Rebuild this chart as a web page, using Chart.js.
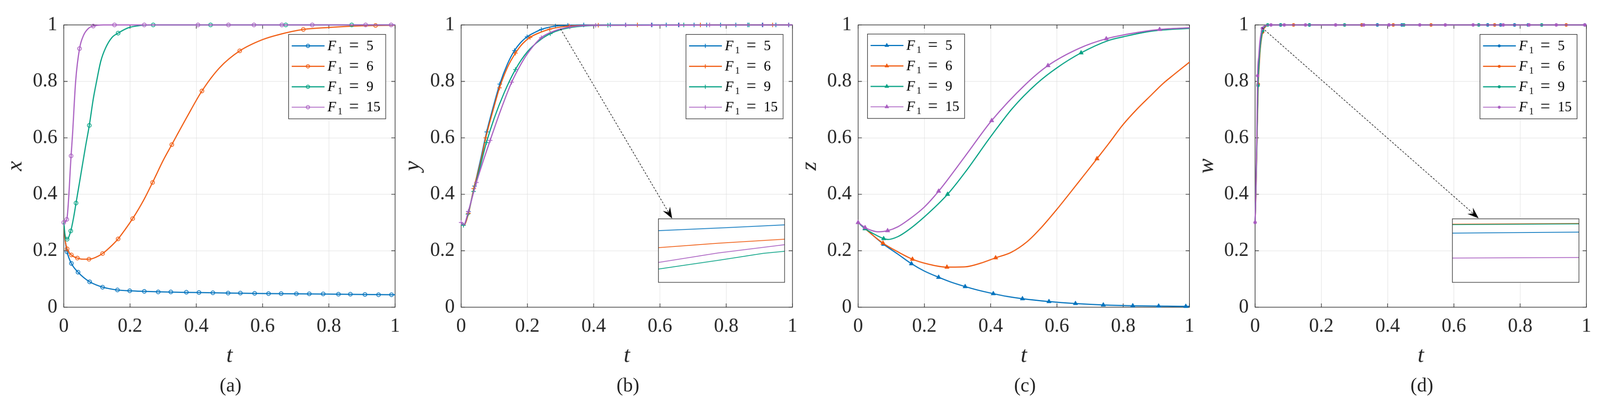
<!DOCTYPE html>
<html>
<head>
<meta charset="utf-8">
<script src="https://cdn.jsdelivr.net/npm/chart.js@4.4.1/dist/chart.umd.min.js"></script>
<style>
html,body{margin:0;padding:0;background:#ffffff;overflow:hidden;}
#stage{position:absolute;left:0;top:0;width:4240px;height:1070px;overflow:hidden;background:#ffffff;transform-origin:0 0;}
canvas{position:absolute;}
.cap{position:absolute;font-family:"Liberation Serif","Times New Roman",serif;font-size:52px;color:#262626;text-align:center;width:400px;height:60px;line-height:60px;}
</style>
</head>
<body>
<div id="stage"></div>
<script>
// ---------------- shared labels / ticks ----------------
const seriesLabels = ['F₁ = 5', 'F₁ = 6', 'F₁ = 9', 'F₁ = 15'];
const xTickValues = [0, 0.2, 0.4, 0.6, 0.8, 1];
const xTickLabels = ['0', '0.2', '0.4', '0.6', '0.8', '1'];
const yTickValues = [0, 0.2, 0.4, 0.6, 0.8, 1];
const yTickLabels = ['0', '0.2', '0.4', '0.6', '0.8', '1'];
const xTitle = 't';
const yTitles = ['x', 'y', 'z', 'w'];
const captions = ['(a)', '(b)', '(c)', '(d)'];

// ---------------- panel (a): x(t) ----------------
const a5_t = [0,0.004,0.01,0.023,0.043,0.06,0.078,0.1,0.117,0.14,0.162,0.199,0.243,0.3,0.4,0.5,0.6,0.7,0.8,0.9,1.0];
const a5_v = [0.3,0.24,0.196,0.155,0.124,0.105,0.09,0.078,0.071,0.065,0.061,0.058,0.056,0.054,0.052,0.050,0.0485,0.0475,0.0465,0.045,0.044];
const a5_mt = [0.01,0.023,0.043,0.078,0.117,0.162,0.199,0.243,0.285,0.323,0.37,0.408,0.45,0.496,0.533,0.576,0.618,0.656,0.702,0.741,0.783,0.829,0.865,0.909,0.95,0.989];
const a5_mv = [0.196,0.155,0.124,0.09,0.071,0.061,0.058,0.056,0.054,0.054,0.053,0.052,0.051,0.050,0.050,0.049,0.048,0.048,0.0475,0.0475,0.047,0.046,0.046,0.045,0.044,0.044];

const a6_t = [0,0.004,0.01,0.023,0.041,0.06,0.076,0.095,0.117,0.14,0.164,0.185,0.208,0.24,0.268,0.3,0.326,0.37,0.417,0.47,0.531,0.6,0.65,0.723,0.8,0.9,1.0];
const a6_v = [0.3,0.24,0.207,0.185,0.174,0.170,0.170,0.176,0.19,0.213,0.242,0.275,0.314,0.377,0.442,0.52,0.576,0.67,0.766,0.848,0.908,0.948,0.966,0.984,0.991,0.997,0.999];
const a6_mt = [0.01,0.023,0.041,0.076,0.117,0.164,0.208,0.268,0.326,0.417,0.531,0.723,0.941];
const a6_mv = [0.207,0.185,0.174,0.170,0.19,0.242,0.314,0.442,0.576,0.766,0.908,0.984,0.998];

const a9_t = [0,0.004,0.01,0.021,0.03,0.037,0.05,0.065,0.077,0.089,0.099,0.112,0.126,0.145,0.164,0.195,0.23,0.27,1.0];
const a9_v = [0.3,0.255,0.241,0.27,0.32,0.369,0.46,0.565,0.644,0.738,0.8,0.873,0.918,0.955,0.971,0.99,0.998,1.0,1.0];
const a9_mt = [0.01,0.021,0.037,0.077,0.164,0.27,0.443,0.67,0.869];
const a9_mv = [0.241,0.27,0.369,0.644,0.971,1,1,1,1];

const a15_t = [0,0.009,0.022,0.0264,0.0358,0.0475,0.0596,0.0747,0.089,0.12,1.0];
const a15_v = [0.3,0.311,0.536,0.612,0.8,0.916,0.963,0.988,0.996,1.0,1.0];
const a15_mt = [0,0.009,0.022,0.0475,0.089,0.153,0.243,0.405,0.497,0.574,0.658,0.75,0.911,0.988];
const a15_mv = [0.3,0.311,0.536,0.916,0.996,1,1,1,1,1,1,1,1,1];

// ---------------- panel (b): y(t) ----------------
const b5_t = [0,0.008,0.0223,0.0404,0.06,0.077,0.1,0.1166,0.14,0.161,0.18,0.199,0.22,0.242,0.2845,0.322,0.37,1.0];
const b5_v = [0.3,0.29,0.339,0.429,0.53,0.621,0.723,0.7905,0.862,0.909,0.938,0.958,0.972,0.984,0.996,0.9985,1.0,1.0];
const b5_mt = [0.0223,0.0404,0.077,0.1166,0.161,0.199,0.242,0.2845,0.322,0.37,0.45,0.496,0.576,0.619,0.656,0.703,0.741,0.783,0.829,0.865,0.909,0.95,0.989];
const b5_mv = [0.339,0.429,0.621,0.7905,0.909,0.958,0.984,0.996,0.9985,1,1,1,1,1,1,1,1,1,1,1,1,1,1];

const b6_t = [0,0.008,0.0223,0.038,0.06,0.0743,0.1,0.1158,0.14,0.1638,0.185,0.208,0.24,0.2675,0.3,0.326,0.414,1.0];
const b6_v = [0.3,0.29,0.333,0.42,0.52,0.600,0.713,0.777,0.85,0.900,0.933,0.956,0.974,0.985,0.9925,0.996,0.999,1.0];
const b6_mt = [0.0223,0.038,0.0743,0.1158,0.1638,0.208,0.2675,0.326,0.414,0.532,0.722,0.94];
const b6_mv = [0.333,0.42,0.600,0.777,0.900,0.956,0.985,0.996,0.999,1,1,1];

const b9_t = [0,0.007,0.0204,0.0374,0.06,0.0762,0.1,0.13,0.1638,0.2,0.24,0.269,0.3,0.35,0.45,1.0];
const b9_v = [0.3,0.29,0.330,0.410,0.51,0.583,0.67,0.76,0.842,0.905,0.948,0.969,0.983,0.994,0.999,1.0];
const b9_mt = [0.007,0.0204,0.0374,0.0762,0.1638,0.269,0.443,0.672,0.869];
const b9_mv = [0.29,0.330,0.410,0.583,0.842,0.969,0.999,1,1];

const b15_t = [0,0.008,0.0215,0.046,0.07,0.0875,0.12,0.1525,0.18,0.2,0.242,0.28,0.3,0.328,0.406,1.0];
const b15_v = [0.3,0.292,0.339,0.442,0.53,0.591,0.70,0.797,0.86,0.898,0.955,0.978,0.9855,0.993,0.9985,1.0];
const b15_mt = [0,0.0215,0.046,0.0875,0.1525,0.242,0.328,0.406,0.497,0.574,0.658,0.75,0.911,0.988];
const b15_mv = [0.3,0.339,0.442,0.591,0.797,0.955,0.993,0.9985,1,1,1,1,1,1];

// inset of (b): zoom near t = 0.3
const bi_t5 = [0.295,0.30054,0.305], bi_v5 = [0.9962,0.99718,0.99804];
const bi_t6 = [0.295,0.29974,0.305], bi_v6 = [0.9909,0.99228,0.99356];
const bi_t9 = [0.295,0.29974,0.30331,0.305], bi_v9 = [0.98424,0.98698,0.98914,0.9898];
const bi_t15 = [0.295,0.29974,0.305], bi_v15 = [0.98628,0.98926,0.99184];
const arrowB = [0.300, 0.986, 0.637, 0.314];

// ---------------- panel (c): z(t) ----------------
const c5_t = [0,0.021,0.077,0.12,0.161,0.2,0.243,0.28,0.323,0.36,0.408,0.45,0.496,0.576,0.656,0.74,0.829,0.907,0.989,1.0];
const c5_v = [0.3,0.279,0.223,0.188,0.154,0.128,0.106,0.089,0.073,0.061,0.048,0.038,0.030,0.020,0.013,0.008,0.005,0.004,0.003,0.003];
const c5_mt = [0.021,0.077,0.161,0.243,0.323,0.408,0.496,0.576,0.656,0.74,0.829,0.907,0.989];
const c5_mv = [0.279,0.223,0.154,0.106,0.073,0.048,0.030,0.020,0.013,0.008,0.005,0.004,0.003];

const c6_t = [0,0.021,0.075,0.12,0.164,0.21,0.268,0.323,0.37,0.415,0.4615,0.509,0.548,0.6,0.643,0.678,0.721,0.756,0.799,0.842,0.886,0.92,0.951,1.0];
const c6_v = [0.3,0.278,0.227,0.196,0.170,0.153,0.142,0.143,0.156,0.175,0.194,0.231,0.276,0.347,0.41,0.462,0.526,0.579,0.646,0.702,0.753,0.792,0.822,0.868];
const c6_mt = [0.021,0.075,0.164,0.268,0.415,0.721];
const c6_mv = [0.278,0.227,0.170,0.142,0.175,0.526];

const c9_t = [0,0.021,0.05,0.077,0.09,0.12,0.15,0.2,0.27,0.323,0.4,0.466,0.539,0.6,0.673,0.756,0.8,0.886,1.0];
const c9_v = [0.3,0.278,0.258,0.243,0.240,0.250,0.272,0.32,0.40,0.478,0.604,0.705,0.792,0.848,0.901,0.945,0.958,0.978,0.988];
const c9_mt = [0.021,0.077,0.27,0.673];
const c9_mv = [0.278,0.243,0.40,0.901];

const c15_t = [0,0.021,0.04,0.06,0.089,0.12,0.15,0.2,0.243,0.323,0.403,0.505,0.573,0.669,0.749,0.821,0.91,1.0];
const c15_v = [0.3,0.282,0.272,0.267,0.271,0.285,0.308,0.355,0.411,0.535,0.661,0.789,0.856,0.918,0.951,0.969,0.984,0.99];
const c15_mt = [0,0.021,0.089,0.243,0.403,0.573,0.749,0.91];
const c15_mv = [0.3,0.282,0.271,0.411,0.661,0.856,0.951,0.984];

// ---------------- panel (d): w(t) ----------------
const d5_t = [0,0.0025,0.0055,0.009,0.012,0.016,0.0225,0.03,0.04,1.0];
const d5_v = [0.3,0.41,0.59,0.79,0.865,0.925,0.977,0.994,1.0,1.0];
const d5_mt = [0.009,0.0225,0.077,0.164,0.322,0.369,0.443,0.702,0.741,0.783,0.824,0.995];
const d5_mv = [0.79,0.977,1,1,1,1,1,1,1,1,1,1];

const d6_t = [0,0.0025,0.0055,0.0095,0.0125,0.016,0.023,0.031,0.041,1.0];
const d6_v = [0.3,0.4,0.58,0.79,0.86,0.92,0.975,0.993,1.0,1.0];
const d6_mt = [0.0095,0.023,0.116,0.322,0.417,0.531,0.723,0.939];
const d6_mv = [0.79,0.975,1,1,1,1,1,1];

const d9_t = [0,0.0025,0.0055,0.0087,0.012,0.016,0.0226,0.03,0.0377,1.0];
const d9_v = [0.3,0.42,0.6,0.785,0.87,0.93,0.979,0.995,1.0,1.0];
const d9_mt = [0.0087,0.0226,0.038,0.077,0.164,0.27,0.449,0.675,0.865];
const d9_mv = [0.785,0.979,1,1,1,1,1,1,1];

const d15_t = [0,0.002,0.005,0.0075,0.0113,0.0143,0.0219,0.03,0.048,1.0];
const d15_v = [0.3,0.4,0.6,0.82,0.892,0.94,0.988,0.997,1.0,1.0];
const d15_mt = [0,0.0075,0.0219,0.048,0.088,0.152,0.243,0.328,0.404,0.497,0.574,0.658,0.749,0.827,0.909,0.995];
const d15_mv = [0.3,0.82,0.988,1,1,1,1,1,1,1,1,1,1,1,1,1];

// inset of (d): zoom near t = 0.02
const di_t5 = [0.02,0.03], di_v5 = [0.99544,0.99576];
const di_t6 = [0.02,0.03], di_v6 = [0.99824,0.99848];
const di_t9 = [0.02,0.03], di_v9 = [0.99808,0.99832];
const di_t15 = [0.02,0.03], di_v15 = [0.98768,0.98784];
const arrowD = [0.0215, 0.9897, 0.6747, 0.315];

// ---------------- styling ----------------
const FONT = '"Liberation Serif", "Times New Roman", serif';
const COLORS = ['#0072BD', '#F05A0F', '#03A183', '#A85CC0'];
const AXIS_COLOR = '#262626';
const GRID_COLOR = '#e0e0e0';
const PAGE_W = 4240, PAGE_H = 1070;
const PLOT_W = 884, PLOT_TOP = 66, PLOT_BOTTOM = 814;
const Y_AXIS_W = 169, X_AXIS_H = 180, CANVAS_W = 1080, CANVAS_H = 1070;

const MARKERS = {
  openCircle: {pointStyle: 'circle', radius: 5, border: 2, fill: false, legendR: 4.5},
  plus:       {pointStyle: 'cross', radius: 6, border: 2, fill: false, legendR: 5.5},
  triangle:   {pointStyle: 'triangle', radius: 7, border: 1, fill: true, legendR: 7},
  dot:        {pointStyle: 'circle', radius: 4.5, border: 0, fill: true, legendR: 3.8}
};

function drawMarker(ctx, kind, x, y, color, r) {
  ctx.save();
  ctx.strokeStyle = color; ctx.fillStyle = color; ctx.lineWidth = 2;
  ctx.beginPath();
  if (kind === 'openCircle') { ctx.arc(x, y, r, 0, Math.PI * 2); ctx.stroke(); }
  else if (kind === 'dot') { ctx.arc(x, y, r, 0, Math.PI * 2); ctx.fill(); }
  else if (kind === 'plus') { ctx.moveTo(x - r, y); ctx.lineTo(x + r, y); ctx.moveTo(x, y - r); ctx.lineTo(x, y + r); ctx.stroke(); }
  else if (kind === 'triangle') {
    let rad = 0;
    ctx.moveTo(x + Math.sin(rad) * r, y - Math.cos(rad) * r);
    rad += 2 * Math.PI / 3; ctx.lineTo(x + Math.sin(rad) * r, y - Math.cos(rad) * r);
    rad += 2 * Math.PI / 3; ctx.lineTo(x + Math.sin(rad) * r, y - Math.cos(rad) * r);
    ctx.closePath(); ctx.fill();
  }
  ctx.restore();
}

function drawLegendLabel(ctx, label, x, baseline) {
  const parts = label.split('=');
  const lhs = parts[0].trim(), rhs = parts[1].trim();
  const main = lhs.charAt(0);
  const subMap = {'₀':'0','₁':'1','₂':'2','₃':'3','₄':'4','₅':'5','₆':'6','₇':'7','₈':'8','₉':'9'};
  const sub = lhs.slice(1).split('').map(c => subMap[c] || c).join('');
  ctx.save();
  ctx.fillStyle = '#000000';
  ctx.textBaseline = 'alphabetic';
  ctx.textAlign = 'left';
  ctx.font = 'italic 37px ' + FONT;
  ctx.fillText(main, x, baseline);
  ctx.font = '25px ' + FONT;
  ctx.fillText(sub, x + 27, baseline + 8);
  ctx.font = '46px ' + FONT;
  ctx.fillText('=', x + 57, baseline + 1);
  ctx.font = '37px ' + FONT;
  ctx.fillText(rhs, x + 103, baseline);
  ctx.restore();
}

const framePlugin = {
  id: 'frame',
  beforeDatasetsDraw(chart) {
    const {ctx, chartArea: a, scales} = chart;
    const L = 10;
    ctx.save();
    ctx.strokeStyle = AXIS_COLOR;
    ctx.lineWidth = 1.6;
    ctx.beginPath();
    xTickValues.forEach(v => {
      const px = scales.x.getPixelForValue(v);
      ctx.moveTo(px, a.bottom); ctx.lineTo(px, a.bottom - L);
      ctx.moveTo(px, a.top); ctx.lineTo(px, a.top + L);
    });
    yTickValues.forEach(v => {
      const py = scales.y.getPixelForValue(v);
      ctx.moveTo(a.left, py); ctx.lineTo(a.left + L, py);
      ctx.moveTo(a.right, py); ctx.lineTo(a.right - L, py);
    });
    ctx.stroke();
    ctx.strokeRect(a.left, a.top, a.right - a.left, a.bottom - a.top);
    ctx.restore();
  }
};

const arrowPlugin = {
  id: 'zoomArrow',
  afterDatasetsDraw(chart, args, opts) {
    if (!opts || !opts.points) return;
    const {ctx, scales} = chart;
    const p = opts.points;
    const x0 = scales.x.getPixelForValue(p[0]), y0 = scales.y.getPixelForValue(p[1]);
    const x1 = scales.x.getPixelForValue(p[2]), y1 = scales.y.getPixelForValue(p[3]);
    const dx = x1 - x0, dy = y1 - y0, len = Math.hypot(dx, dy);
    const ux = dx / len, uy = dy / len, nx = -uy, ny = ux;
    const L = 30, W = 11, N = 19;
    ctx.save();
    ctx.strokeStyle = '#000'; ctx.fillStyle = '#000';
    ctx.lineWidth = 1.5;
    ctx.setLineDash([5, 4]);
    ctx.beginPath(); ctx.moveTo(x0, y0); ctx.lineTo(x1 - ux * N, y1 - uy * N); ctx.stroke();
    ctx.setLineDash([]);
    ctx.beginPath();
    ctx.moveTo(x1, y1);
    ctx.lineTo(x1 - ux * L + nx * W, y1 - uy * L + ny * W);
    ctx.lineTo(x1 - ux * N, y1 - uy * N);
    ctx.lineTo(x1 - ux * L - nx * W, y1 - uy * L - ny * W);
    ctx.closePath(); ctx.fill();
    ctx.restore();
  }
};

const legendPlugin = {
  id: 'boxLegend',
  afterDraw(chart, args, o) {
    const a = chart.chartArea, ctx = chart.ctx;
    const W = 259, H = 225;
    const left = o.side === 'right' ? a.right - 24 - W : a.left + 24;
    const top = a.top + o.topGap;
    ctx.save();
    ctx.fillStyle = '#ffffff';
    ctx.fillRect(left, top, W, H);
    ctx.strokeStyle = AXIS_COLOR; ctx.lineWidth = 1.5;
    ctx.strokeRect(left + 0.75, top + 0.75, W - 1.5, H - 1.5);
    const series = chart.data.datasets.filter(d => d.isSeries);
    series.forEach((ds, k) => {
      const cy = top + 31 + k * 54.2;
      ctx.strokeStyle = ds.borderColor;
      ctx.lineWidth = k === 3 ? 2 : 3;
      ctx.beginPath(); ctx.moveTo(left + 9, cy); ctx.lineTo(left + 96, cy); ctx.stroke();
      drawMarker(ctx, o.marker, left + 52, cy, ds.borderColor, MARKERS[o.marker].legendR);
      drawLegendLabel(ctx, ds.label, left + 104, cy + 11);
    });
    ctx.restore();
  }
};

const insetPlugin = {
  id: 'insetFrame',
  beforeDraw(chart) {
    const ctx = chart.ctx;
    ctx.save(); ctx.fillStyle = '#ffffff'; ctx.fillRect(0, 0, chart.width, chart.height); ctx.restore();
  },
  afterDraw(chart) {
    const ctx = chart.ctx;
    ctx.save(); ctx.strokeStyle = '#333333'; ctx.lineWidth = 1.6;
    ctx.strokeRect(0.8, 0.8, chart.width - 1.6, chart.height - 1.6); ctx.restore();
  }
};

function pts(ts, vs) { return ts.map((t, i) => ({x: t, y: vs[i]})); }

const panels = [
  {plotLeft: 169, marker: 'openCircle', legendSide: 'right', legendTop: 24.5, arrow: null,
   lines: [[a5_t, a5_v], [a6_t, a6_v], [a9_t, a9_v], [a15_t, a15_v]],
   marks: [[a5_mt, a5_mv], [a6_mt, a6_mv], [a9_mt, a9_mv], [a15_mt, a15_mv]]},
  {plotLeft: 1222, marker: 'plus', legendSide: 'right', legendTop: 24.5, arrow: arrowB,
   lines: [[b5_t, b5_v], [b6_t, b6_v], [b9_t, b9_v], [b15_t, b15_v]],
   marks: [[b5_mt, b5_mv], [b6_mt, b6_mv], [b9_mt, b9_mv], [b15_mt, b15_mv]],
   inset: {left: 1744, top: 579, w: 336, h: 170, xmin: 0.295, xmax: 0.305, ymin: 0.98, ymax: 1.0,
           lines: [[bi_t5, bi_v5], [bi_t6, bi_v6], [bi_t9, bi_v9], [bi_t15, bi_v15]]}},
  {plotLeft: 2274, marker: 'triangle', legendSide: 'left', legendTop: 23.5, arrow: null,
   lines: [[c5_t, c5_v], [c6_t, c6_v], [c9_t, c9_v], [c15_t, c15_v]],
   marks: [[c5_mt, c5_mv], [c6_mt, c6_mv], [c9_mt, c9_mv], [c15_mt, c15_mv]]},
  {plotLeft: 3326, marker: 'dot', legendSide: 'right', legendTop: 24.5, arrow: arrowD,
   lines: [[d5_t, d5_v], [d6_t, d6_v], [d9_t, d9_v], [d15_t, d15_v]],
   marks: [[d5_mt, d5_mv], [d6_mt, d6_mv], [d9_mt, d9_mv], [d15_mt, d15_mv]],
   inset: {left: 3848, top: 579, w: 337, h: 170, xmin: 0.02, xmax: 0.03, ymin: 0.98, ymax: 1.0,
           lines: [[di_t5, di_v5], [di_t6, di_v6], [di_t9, di_v9], [di_t15, di_v15]]}}
];

const stage = document.getElementById('stage');

function fitStage() {
  const vw = window.innerWidth || document.documentElement.clientWidth || PAGE_W;
  const vh = window.innerHeight || document.documentElement.clientHeight || PAGE_H;
  const s = Math.min(vw / PAGE_W, vh / PAGE_H);
  stage.style.transform = (Math.abs(s - 1) > 0.002) ? 'scale(' + s + ')' : 'none';
}

function buildPanel(p, idx) {
  const cv = document.createElement('canvas');
  cv.width = CANVAS_W; cv.height = CANVAS_H;
  cv.style.left = (p.plotLeft - Y_AXIS_W) + 'px';
  cv.style.top = '0px';
  cv.style.width = CANVAS_W + 'px'; cv.style.height = CANVAS_H + 'px';
  stage.appendChild(cv);

  const m = MARKERS[p.marker];
  const datasets = [];
  p.lines.forEach((ln, k) => {
    datasets.push({
      label: seriesLabels[k], isSeries: true,
      data: pts(ln[0], ln[1]),
      showLine: true, borderColor: COLORS[k], backgroundColor: COLORS[k],
      borderWidth: 3, pointRadius: 0, pointHoverRadius: 0, pointHitRadius: 0,
      cubicInterpolationMode: 'monotone', fill: false, clip: false,
      order: (3 - k) * 2 + 1
    });
    const mk = p.marks[k];
    datasets.push({
      label: seriesLabels[k] + ' markers',
      data: pts(mk[0], mk[1]),
      showLine: false,
      pointStyle: m.pointStyle, pointRadius: m.radius, pointHoverRadius: m.radius,
      pointBorderWidth: m.border, pointBorderColor: COLORS[k],
      pointBackgroundColor: m.fill ? COLORS[k] : 'rgba(0,0,0,0)',
      borderColor: COLORS[k], backgroundColor: m.fill ? COLORS[k] : 'rgba(0,0,0,0)',
      clip: false, order: (3 - k) * 2
    });
  });

  new Chart(cv, {
    type: 'scatter',
    data: {datasets},
    options: {
      responsive: false, animation: false, devicePixelRatio: 1,
      events: [],
      layout: {padding: {left: 0, right: CANVAS_W - Y_AXIS_W - PLOT_W, top: PLOT_TOP, bottom: CANVAS_H - PLOT_BOTTOM - X_AXIS_H}},
      plugins: {
        legend: {display: false}, tooltip: {enabled: false},
        boxLegend: {side: p.legendSide, topGap: p.legendTop, marker: p.marker},
        zoomArrow: {points: p.arrow}
      },
      scales: {
        x: {
          type: 'linear', position: 'bottom', min: 0, max: 1,
          afterBuildTicks: s => { s.ticks = xTickValues.map(v => ({value: v})); },
          afterFit: s => { s.height = X_AXIS_H; },
          grid: {color: GRID_COLOR, lineWidth: 1.2, drawTicks: false},
          border: {display: false},
          ticks: {padding: 20, color: AXIS_COLOR, autoSkip: false, maxRotation: 0, minRotation: 0,
                  font: {family: FONT, size: 52}, callback: (v, i) => xTickLabels[i]},
          title: {display: true, text: xTitle, color: AXIS_COLOR,
                  font: {family: FONT, size: 60, style: 'italic'}, padding: {top: 0, bottom: 15}}
        },
        y: {
          type: 'linear', position: 'left', min: 0, max: 1,
          afterBuildTicks: s => { s.ticks = yTickValues.map(v => ({value: v})); },
          afterFit: s => { s.width = Y_AXIS_W; },
          grid: {color: GRID_COLOR, lineWidth: 1.2, drawTicks: false},
          border: {display: false},
          ticks: {padding: 17, color: AXIS_COLOR, autoSkip: false,
                  font: {family: FONT, size: 52}, callback: (v, i) => yTickLabels[i]},
          title: {display: true, text: yTitles[idx], color: AXIS_COLOR,
                  font: {family: FONT, size: 60, style: 'italic'}, padding: {top: 5, bottom: 0}}
        }
      }
    },
    plugins: [framePlugin, arrowPlugin, legendPlugin]
  });

  const cap = document.createElement('div');
  cap.className = 'cap';
  cap.textContent = captions[idx];
  cap.style.left = (p.plotLeft + PLOT_W / 2 - 200) + 'px';
  cap.style.top = (1020 - 30) + 'px';
  stage.appendChild(cap);

  if (p.inset) buildInset(p.inset);
}

function buildInset(b) {
  const cv = document.createElement('canvas');
  cv.width = b.w; cv.height = b.h;
  cv.style.left = b.left + 'px'; cv.style.top = b.top + 'px';
  cv.style.width = b.w + 'px'; cv.style.height = b.h + 'px';
  stage.appendChild(cv);
  new Chart(cv, {
    type: 'scatter',
    data: {datasets: b.lines.map((ln, k) => ({
      label: seriesLabels[k], data: pts(ln[0], ln[1]), showLine: true,
      borderColor: COLORS[k], borderWidth: 2, pointRadius: 0, pointHoverRadius: 0,
      fill: false, order: 3 - k
    }))},
    options: {
      responsive: false, animation: false, devicePixelRatio: 1, events: [],
      layout: {padding: 0},
      plugins: {legend: {display: false}, tooltip: {enabled: false}},
      scales: {
        x: {type: 'linear', display: false, min: b.xmin, max: b.xmax},
        y: {type: 'linear', display: false, min: b.ymin, max: b.ymax}
      }
    },
    plugins: [insetPlugin]
  });
}

function buildAll() { fitStage(); panels.forEach((p, i) => buildPanel(p, i)); }
window.addEventListener('resize', fitStage);

Promise.all([
  document.fonts.load('52px "Liberation Serif"'),
  document.fonts.load('italic 60px "Liberation Serif"')
]).then(buildAll, buildAll);
</script>
</body>
</html>
